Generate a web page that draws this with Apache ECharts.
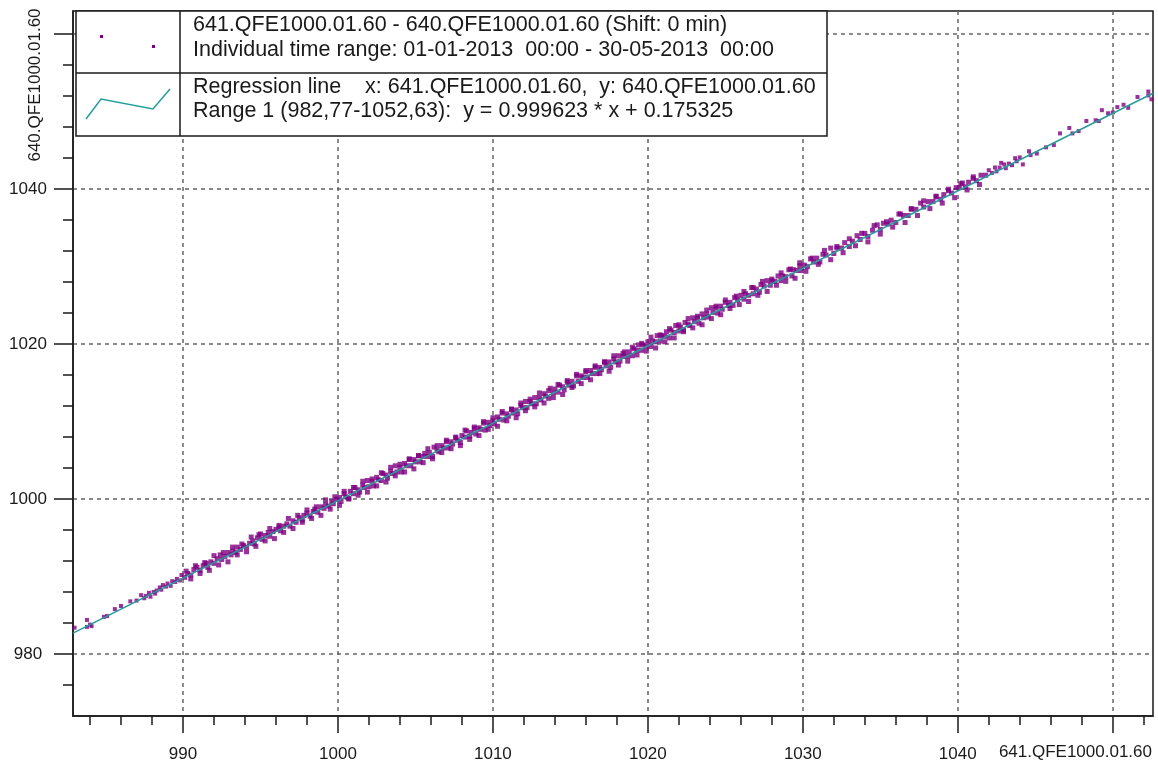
<!DOCTYPE html>
<html>
<head>
<meta charset="utf-8">
<style>html,body{margin:0;padding:0;background:#fff}#main{width:1158px;height:763px}</style>
<script src="https://cdn.jsdelivr.net/npm/echarts@6/dist/echarts.min.js"></script>
</head>
<body>
<div id="main"></div>
<script>
var FONT = '"Liberation Sans", Arial, sans-serif';
var INK = '#1a1a1a';

// axis ranges and ticks
var xMin = 982.9, xMax = 1052.6;
var yMin = 972, yMax = 1063;
var xMajor = [990, 1000, 1010, 1020, 1030, 1040, 1050];
var xMinor = [984, 986, 988, 992, 994, 996, 998, 1002, 1004, 1006, 1008, 1012, 1014, 1016, 1018,
              1022, 1024, 1026, 1028, 1032, 1034, 1036, 1038, 1042, 1044, 1046, 1048, 1052];
var xLabels = [990, 1000, 1010, 1020, 1030, 1040];
var yMajor = [980, 1000, 1020, 1040, 1060];
var yMinor = [976, 984, 988, 992, 996, 1004, 1008, 1012, 1016, 1024, 1028, 1032, 1036, 1044, 1048, 1052, 1056];
var yLabels = [980, 1000, 1020, 1040];

// regression line end points (range 1)
var regLine = [[982.9, 982.70], [1052.6, 1052.38]];

// measured pairs [641.QFE1000.01.60, 640.QFE1000.01.60]
var ptsA = [[983.0,983.4],[983.8,983.5],[983.8,984.4],[984.1,983.6],[984.0,983.8],[984.9,984.8],[985.1,984.9],
  [985.6,985.8],[986.0,986.2],[986.6,986.8],[987.0,986.9],[987.3,987.6],[987.5,987.2],[987.6,987.5],[987.8,987.9],
  [987.9,987.4],[988.1,988.0],[988.2,987.8],[988.3,988.2],[988.5,988.6],[988.6,988.3],[988.7,988.9],[988.9,988.7],
  [989.0,989.1],[989.2,988.8],[989.3,989.4],[989.5,989.3],[989.6,989.7],[989.8,989.5],[989.9,990.2]];
var ptsB = [[990.1,989.9],[990.3,990.4],[990.5,990.2],[990.7,990.9],[990.9,991.2],[991.1,990.8],[991.3,991.4],
  [991.5,991.7],[991.6,991.2],[991.8,991.9],[992.0,991.7],[992.2,992.3],[992.4,992.8],[992.5,992.2],[992.7,992.6],
  [992.9,993.1],[993.1,992.8],[993.2,993.3],[993.4,993.1],[993.5,993.8],[993.7,993.5],[993.9,994.0],[994.1,993.8],
  [994.3,994.3],[994.5,994.6],[994.6,994.2],[994.8,995.0],[994.9,995.4],[995.1,994.8],[995.3,995.3],[995.5,995.7],
  [995.6,995.2],[995.8,995.8],[996.0,996.1],[996.2,996.4],[996.3,995.9],[996.5,996.5],[996.7,996.8],[996.9,996.5],
  [997.1,997.2],[997.3,997.0],[997.5,997.6],[997.7,997.3],[997.8,997.9],[998.0,998.2],[998.2,997.8],[998.4,998.4],
  [998.5,998.7],[998.7,998.3],[998.9,999.0],[999.1,998.8],[999.2,999.3],[999.4,999.1],[999.6,999.7],[999.7,999.4],
  [999.9,1000.0]];
var ptsC = [[1000.1,1000.2],[1000.2,999.7],[1000.4,1000.7],[1000.5,1000.3],[1000.7,1000.1],[1000.8,1001.0],
  [1001.0,1000.7],[1001.1,1001.5],[1001.3,1001.2],[1001.4,1000.9],[1001.6,1001.8],[1001.7,1001.5],[1001.9,1002.4],
  [1002.0,1001.6],[1002.2,1002.3],[1002.3,1001.7],[1002.5,1002.8],[1002.6,1002.5],[1002.8,1002.4],[1002.9,1003.3],
  [1003.1,1003.1],[1003.2,1002.7],[1003.4,1003.6],[1003.5,1003.3],[1003.7,1004.3],[1003.8,1003.5],[1004.0,1004.1],
  [1004.1,1003.5],[1004.3,1004.6],[1004.4,1004.3],[1004.6,1005.1],[1004.7,1004.3],[1004.9,1005.1],[1005.0,1004.8],
  [1005.2,1005.6],[1005.3,1004.8],[1005.5,1005.5],[1005.6,1005.9],[1005.8,1005.5],[1005.9,1006.0],[1006.1,1005.5],
  [1006.2,1006.7],[1006.4,1006.3],[1006.5,1006.1],[1006.7,1006.9],[1006.8,1006.6],[1007.0,1007.4],[1007.1,1006.6],
  [1007.3,1007.4],[1007.4,1007.1],[1007.6,1007.9],[1007.7,1007.6],[1007.9,1007.3],[1008.0,1008.2],[1008.2,1008.0],
  [1008.3,1008.8],[1008.5,1008.1],[1008.6,1008.6],[1008.8,1009.1],[1008.9,1008.4],[1009.1,1009.2],[1009.2,1009.0],
  [1009.4,1009.8],[1009.5,1008.9],[1009.7,1009.9],[1009.8,1009.5],[1010.0,1010.1]];
var ptsD = [[1010.1,1009.7],[1010.3,1010.6],[1010.4,1010.3],[1010.6,1011.1],[1010.7,1010.2],[1010.9,1011.0],
  [1011.0,1010.7],[1011.2,1011.6],[1011.3,1011.1],[1011.5,1011.5],[1011.6,1011.0],[1011.8,1012.1],[1011.9,1011.8],
  [1012.1,1012.6],[1012.2,1011.8],[1012.4,1012.6],[1012.5,1012.3],[1012.7,1013.1],[1012.8,1012.3],[1013.0,1013.1],
  [1013.1,1012.8],[1013.3,1013.6],[1013.4,1013.3],[1013.6,1013.0],[1013.7,1014.3],[1013.9,1013.7],[1014.0,1014.2],
  [1014.2,1013.8],[1014.3,1014.7],[1014.5,1014.5],[1014.6,1014.1],[1014.8,1015.1],[1014.9,1014.7],[1015.1,1015.2],
  [1015.2,1014.6],[1015.4,1015.9],[1015.5,1015.2],[1015.7,1015.9],[1015.8,1015.7],[1016.0,1016.6],[1016.1,1015.7],
  [1016.3,1016.6],[1016.4,1016.2],[1016.6,1017.0],[1016.7,1016.2],[1016.9,1017.0],[1017.0,1016.7],[1017.2,1017.7],
  [1017.3,1017.2],[1017.5,1017.7],[1017.6,1017.0],[1017.8,1018.1],[1017.9,1017.7],[1018.1,1018.5],[1018.2,1017.8],
  [1018.4,1018.4],[1018.5,1019.0],[1018.7,1018.4],[1018.8,1019.0],[1019.0,1018.5],[1019.1,1019.4],[1019.3,1019.2],
  [1019.4,1019.9],[1019.6,1019.2],[1019.7,1019.9],[1019.9,1019.7]];
var ptsE = [[1020.0,1020.3],[1020.2,1019.7],[1020.3,1020.4],[1020.5,1020.3],[1020.6,1021.1],[1020.8,1020.4],
  [1020.9,1021.1],[1021.1,1021.0],[1021.2,1021.6],[1021.4,1020.8],[1021.5,1021.8],[1021.7,1021.5],[1021.8,1022.4],
  [1022.0,1021.7],[1022.1,1022.2],[1022.3,1021.8],[1022.4,1022.8],[1022.6,1022.6],[1022.7,1022.4],[1022.9,1023.4],
  [1023.0,1022.9],[1023.2,1023.4],[1023.3,1022.7],[1023.5,1023.9],[1023.6,1023.4],[1023.8,1023.9],[1023.9,1023.5],
  [1024.1,1024.7],[1024.2,1024.1],[1024.4,1024.7],[1024.5,1024.0],[1024.7,1024.9],[1024.8,1024.5],[1025.0,1025.4],
  [1025.2,1025.0],[1025.3,1025.4],[1025.5,1025.0],[1025.7,1026.2],[1025.8,1025.7],[1026.0,1026.3],[1026.2,1025.8],
  [1026.3,1026.5],[1026.5,1026.3],[1026.7,1027.3],[1026.8,1026.5],[1027.0,1027.1],[1027.2,1026.7],[1027.3,1027.7],
  [1027.5,1027.5],[1027.7,1028.2],[1027.9,1027.6],[1028.0,1028.2],[1028.2,1028.1],[1028.4,1028.8],[1028.6,1028.2],
  [1028.7,1028.8],[1028.9,1028.7],[1029.1,1029.6],[1029.3,1028.8],[1029.4,1029.6],[1029.6,1029.5],[1029.8,1030.1],
  [1029.9,1029.5]];
var ptsF = [[1030.1,1030.2],[1030.3,1030.0],[1030.5,1031.0],[1030.7,1030.6],[1030.9,1031.1],[1031.1,1030.6],
  [1031.3,1031.6],[1031.5,1031.5],[1031.8,1032.4],[1032.0,1031.7],[1032.2,1032.4],[1032.5,1032.4],[1032.7,1033.1],
  [1033.0,1032.6],[1033.2,1033.3],[1033.5,1034.0],[1033.7,1033.5],[1034.0,1034.3],[1034.2,1033.9],[1034.5,1034.7],
  [1034.8,1035.4],[1035.0,1034.8],[1035.2,1035.6],[1035.5,1035.5],[1035.7,1036.0],[1036.0,1035.7],[1036.3,1036.8],
  [1036.5,1036.6],[1036.8,1036.6],[1037.0,1037.4],[1037.3,1037.4],[1037.6,1038.2],[1037.8,1037.7],[1038.1,1038.4],
  [1038.4,1038.4],[1038.6,1039.1],[1038.9,1038.7],[1039.1,1039.3],[1039.4,1039.8],[1039.6,1039.5],[1039.9,1040.2],
  [1040.1,1040.2],[1040.3,1040.8],[1040.5,1040.3],[1040.7,1040.9],[1041.0,1041.4],[1041.2,1041.1],[1041.5,1041.8],
  [1041.8,1041.8]];
var ptsG = [[1042.0,1042.45],[1042.2,1042.1],[1042.4,1042.8],[1042.5,1042.3],[1042.7,1042.8],[1042.8,1043.4],
  [1043.0,1043.2],[1043.1,1042.7],[1043.3,1043.3],[1043.5,1043.1],[1043.7,1044.0],[1043.8,1043.6],[1044.0,1044.1],
  [1044.2,1043.2],[1044.6,1044.9],[1044.7,1044.4],[1045.1,1044.6],[1045.7,1045.4],[1046.2,1045.7],[1046.6,1047.2],
  [1047.2,1047.9],[1047.4,1047.2],[1047.8,1047.5],[1048.3,1048.8],[1048.9,1048.9],[1049.1,1048.8],[1049.3,1050.2],
  [1049.7,1049.8],[1050.0,1049.9],[1050.3,1050.6],[1050.7,1050.9],[1051.0,1050.5],[1051.6,1051.9],[1052.3,1052.6],
  [1052.3,1052.1],[1052.5,1051.6]];
// outer edge of the band
var edgeA = [[990.2,990.7],[990.5,989.7],[990.8,991.4],[991.1,990.4],[991.4,991.8],[991.7,990.8],[992.0,992.7],
  [992.3,991.5],[992.6,993.1],[992.9,991.9],[993.2,993.8],[993.5,992.8],[993.8,994.2],[994.1,993.2],[994.4,995.1],
  [994.7,993.9],[995.0,995.5],[995.3,994.6],[995.6,996.2],[995.9,994.9],[996.2,996.6],[996.5,995.7],[996.8,997.5],
  [997.1,996.2],[997.4,997.9],[997.7,997.0],[998.0,998.6],[998.3,997.5],[998.6,999.0],[998.9,997.9],[999.2,999.9],
  [999.5,998.7],[999.8,1000.3],[1000.1,999.2],[1000.4,1001.0],[1000.7,1000.0],[1001.0,1001.5],[1001.3,1000.5],
  [1001.6,1002.3],[1001.9,1000.9],[1002.2,1002.6],[1002.5,1001.7],[1002.8,1003.4],[1003.1,1002.2],[1003.4,1004.1],
  [1003.7,1003.0],[1004.0,1004.5],[1004.3,1003.5],[1004.6,1005.2],[1004.9,1003.9],[1005.2,1005.6],[1005.5,1004.7],
  [1005.8,1006.5],[1006.1,1005.2],[1006.4,1006.9],[1006.7,1006.0],[1007.0,1007.6],[1007.3,1006.5],[1007.6,1008.0],
  [1007.9,1006.9],[1008.2,1008.9],[1008.5,1007.7],[1008.8,1009.3],[1009.1,1008.2],[1009.4,1010.0],[1009.7,1009.0]];
var edgeB = [[1010.0,1010.5],[1010.3,1009.4],[1010.6,1011.3],[1010.9,1010.1],[1011.2,1011.6],[1011.5,1010.5],
  [1011.8,1012.4],[1012.1,1011.4],[1012.4,1012.9],[1012.7,1011.9],[1013.0,1013.7],[1013.3,1012.4],[1013.6,1014.0],
  [1013.9,1013.1],[1014.2,1014.8],[1014.5,1013.5],[1014.8,1015.3],[1015.1,1014.4],[1015.4,1016.1],[1015.7,1014.9],
  [1016.0,1016.4],[1016.3,1015.4],[1016.6,1017.2],[1016.9,1016.2],[1017.2,1017.7],[1017.5,1016.5],[1017.8,1018.5],
  [1018.1,1017.3],[1018.4,1018.8],[1018.7,1017.8],[1019.0,1019.6],[1019.3,1018.6],[1019.6,1020.1],[1019.9,1019.1],
  [1020.2,1020.9],[1020.5,1019.5],[1020.8,1021.2],[1021.1,1020.3],[1021.4,1022.0],[1021.7,1020.8],[1022.0,1022.5],
  [1022.3,1021.6],[1022.6,1023.3],[1022.9,1022.1],[1023.2,1023.6],[1023.5,1022.5],[1023.8,1024.4],[1024.1,1023.3],
  [1024.4,1024.9],[1024.7,1023.8],[1025.0,1025.7],[1025.3,1024.6],[1025.6,1026.0],[1025.9,1025.1],[1026.2,1026.8],
  [1026.5,1025.5],[1026.8,1027.3],[1027.1,1026.3],[1027.4,1028.1],[1027.7,1026.8],[1028.0,1028.4],[1028.3,1027.6],
  [1028.6,1029.2],[1028.9,1028.1],[1029.2,1029.7],[1029.5,1028.5],[1029.8,1030.5]];
var edgeC = [[1030.2,1029.4],[1030.6,1031.1],[1031.0,1030.3],[1031.4,1032.1],[1031.8,1030.9],[1032.2,1032.6],
  [1032.6,1031.8],[1033.0,1033.6],[1033.4,1032.7],[1033.8,1034.3],[1034.2,1033.2],[1034.6,1035.3],[1035.0,1034.2],
  [1035.4,1035.8],[1035.8,1035.1],[1036.2,1036.8],[1036.6,1035.7],[1037.0,1037.5],[1037.4,1036.6],[1037.8,1038.5],
  [1038.2,1037.5],[1038.6,1039.0],[1039.0,1038.2],[1039.4,1040.0],[1039.8,1038.9],[1040.2,1040.7],[1040.6,1039.9],
  [1041.0,1041.6],[1041.4,1040.6]];

var densePoints = ptsB.concat(ptsC, ptsD, ptsE, ptsF, edgeA, edgeB, edgeC);
var sparsePoints = ptsA.concat(ptsG);

var legendLines = [
  '641.QFE1000.01.60 - 640.QFE1000.01.60 (Shift: 0 min)',
  'Individual time range: 01-01-2013  00:00 - 30-05-2013  00:00',
  'Regression line    x: 641.QFE1000.01.60,  y: 640.QFE1000.01.60',
  'Range 1 (982,77-1052,63):  y = 0.999623 * x + 0.175325'
];

var tickStyle = {color: INK, width: 1.5};
var gridDash = {color: '#666', width: 1.5, type: [4, 4]};
var plain = function (v) { return String(v); };

var myChart = echarts.init(document.getElementById('main'));

var option = {
  animation: false,
  backgroundColor: '#fff',
  grid: {left: 73, right: 5, top: 11, bottom: 47, show: true, borderColor: INK, borderWidth: 1.5},
  xAxis: [{
    type: 'value', min: xMin, max: xMax, position: 'bottom',
    axisLine: {show: true, lineStyle: tickStyle},
    axisTick: {show: true, customValues: xMajor, length: 17, lineStyle: tickStyle},
    axisLabel: {customValues: xLabels, formatter: plain, margin: 30, color: INK, fontSize: 17, fontFamily: FONT},
    splitLine: {show: true, lineStyle: gridDash}
  }, {
    type: 'value', min: xMin, max: xMax, position: 'bottom',
    axisLine: {show: false},
    axisTick: {show: true, customValues: xMinor, length: 9, lineStyle: tickStyle},
    axisLabel: {show: false},
    splitLine: {show: false}
  }],
  yAxis: [{
    type: 'value', min: yMin, max: yMax, position: 'left',
    axisLine: {show: true, lineStyle: tickStyle},
    axisTick: {show: true, customValues: yMajor, length: 19, lineStyle: tickStyle},
    axisLabel: {customValues: yLabels, formatter: plain, margin: 45, align: 'center', color: INK, fontSize: 17, fontFamily: FONT},
    splitLine: {show: true, lineStyle: gridDash}
  }, {
    type: 'value', min: yMin, max: yMax, position: 'left',
    axisLine: {show: false},
    axisTick: {show: true, customValues: yMinor, length: 10, lineStyle: tickStyle},
    axisLabel: {show: false},
    splitLine: {show: false}
  }],
  series: [{
    type: 'scatter',
    silent: true,
    symbol: 'rect',
    symbolSize: 5,
    itemStyle: {color: '#7d0080'},
    data: densePoints,
    z: 2
  }, {
    type: 'scatter',
    silent: true,
    symbol: 'rect',
    symbolSize: 4,
    itemStyle: {color: '#7d0080'},
    data: sparsePoints,
    z: 2
  }, {
    type: 'line',
    silent: true,
    showSymbol: false,
    lineStyle: {color: '#229c9c', width: 1.5},
    data: regLine,
    z: 3
  }],
  graphic: [
    {type: 'text', x: 35, y: 85, rotation: Math.PI / 2, z: 10,
      style: {text: '640.QFE1000.01.60', font: '17px ' + FONT, fill: INK, textAlign: 'center', textVerticalAlign: 'middle'}},
    {type: 'text', x: 1152, y: 752, z: 10,
      style: {text: '641.QFE1000.01.60', font: '17px ' + FONT, fill: INK, textAlign: 'right', textVerticalAlign: 'middle'}},
    {type: 'rect', z: 10, shape: {x: 76, y: 11, width: 751, height: 125},
      style: {fill: '#fff', stroke: INK, lineWidth: 1.5}},
    {type: 'line', z: 11, shape: {x1: 180, y1: 11, x2: 180, y2: 136}, style: {stroke: INK, lineWidth: 1.5}},
    {type: 'line', z: 11, shape: {x1: 76, y1: 73, x2: 827, y2: 73}, style: {stroke: INK, lineWidth: 1.5}},
    {type: 'rect', z: 11, shape: {x: 100, y: 35, width: 3, height: 3}, style: {fill: '#7d0080'}},
    {type: 'rect', z: 11, shape: {x: 152, y: 45, width: 3, height: 3}, style: {fill: '#7d0080'}},
    {type: 'polyline', z: 11, shape: {points: [[86, 119], [101, 99], [153, 109], [170, 89]]},
      style: {stroke: '#229c9c', lineWidth: 1.5, fill: null}},
    {type: 'text', x: 193, y: 25, z: 11, style: {text: legendLines[0], font: '21.5px ' + FONT, fill: INK, textVerticalAlign: 'middle'}},
    {type: 'text', x: 193, y: 50, z: 11, style: {text: legendLines[1], font: '21.5px ' + FONT, fill: INK, textVerticalAlign: 'middle'}},
    {type: 'text', x: 193, y: 87, z: 11, style: {text: legendLines[2], font: '21.5px ' + FONT, fill: INK, textVerticalAlign: 'middle'}},
    {type: 'text', x: 193, y: 111, z: 11, style: {text: legendLines[3], font: '21.5px ' + FONT, fill: INK, textVerticalAlign: 'middle'}}
  ]
};

myChart.setOption(option);
</script>
</body>
</html>
